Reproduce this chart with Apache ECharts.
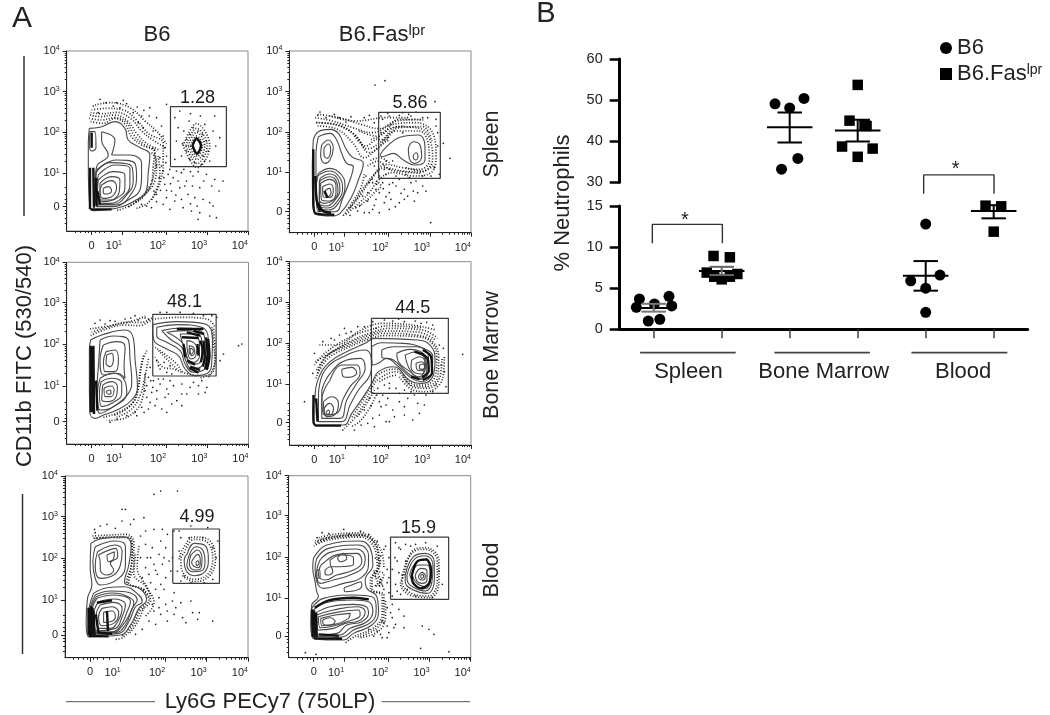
<!DOCTYPE html>
<html><head><meta charset="utf-8">
<style>html,body{margin:0;padding:0;background:#fff}#c{width:1050px;height:715px;filter:blur(.4px)}</style>
<script src="https://cdn.jsdelivr.net/npm/echarts@6/dist/echarts.min.js"></script></head>
<body><div id="c"></div>
<script>
// ---------- Panel A: values are read in display channels of each cytometry plot ----------
const xTickChannels=[75,166,298,422,545];
const tickLabels=['0','1','2','3','4'];
const p1YTicks=[73,173,296,418,540];
const p2YTicks=[63,181,301,423,545];
const p3YTicks=[67,174,300,424,545];
const p4YTicks=[67,182,305,428,550];
const p5YTicks=[68,173,298,423,545];
const p6YTicks=[65,178,301,426,546];

const p1Contours=[
[[68,308],[100,311],[145,328],[175,308],[185,273],[215,253],[250,228],[245,173],[240,123],[200,88],[150,68],[80,61],[68,93],[65,193],[65,263]],
[[105,298],[145,273],[135,228],[190,228],[225,203],[225,163],[220,123],[185,93],[140,73],[90,73],[85,133],[90,193],[125,228],[105,273]],
[[88,175],[130,205],[195,195],[200,150],[180,108],[140,80],[92,80],[88,125]],
[[90,183],[150,213],[205,203],[210,163],[195,113],[150,78],[95,78],[85,133]],
[[95,168],[145,198],[190,188],[190,138],[170,103],[130,83],[95,83],[90,123]],
[[95,153],[140,178],[175,168],[175,128],[150,98],[110,88],[92,103]],
[[100,143],[135,163],[160,153],[158,118],[130,93],[100,93]],
[[105,138],[135,151],[150,133],[135,103],[110,98],[100,118]],
[[110,128],[125,133],[135,121],[122,111],[110,115]],
[[70,298],[85,298],[88,250],[75,240],[68,260]],
[[380,256],[390,273],[402,256],[392,235]]];
const p1Dark=[[[70,190],[70,65]],[[80,190],[82,70]],[[88,160],[90,75]],[[72,65],[135,65]],[[75,295],[75,250]],[[92,120],[100,80]],[[378,256],[390,278],[404,256],[392,232],[378,256]]];
const p1Rims=[
[[70,348],[100,343],[145,348],[185,328],[210,293],[240,263],[280,243]],
[[72,328],[110,323],[145,338],[175,321],[195,283],[225,258],[265,238],[260,193],[255,143],[230,103],[195,78],[150,61]],
[[75,363],[120,368],[170,363],[210,333],[245,293],[290,263],[290,203],[280,143],[255,93]],
[[260,250],[270,200],[265,150],[235,110],[205,85]],
[[68,338],[105,333],[145,340],[180,325],[202,288],[232,260],[272,240]],
[[72,355],[110,352],[150,356],[195,335],[225,300],[260,272],[298,250]],
[[255,235],[268,215],[262,170],[250,135],[222,100],[185,72]],
[[275,225],[280,175],[270,125],[245,85],[210,68]],
[[85,378],[130,385],[190,370],[235,330],[270,300],[300,262]],
[[365,256],[390,296],[415,256],[392,214],[365,256]],
[[372,256],[390,285],[408,256],[392,224],[372,256]],
[[350,256],[390,322],[430,256],[392,190],[350,256]],
[[358,256],[390,308],[422,256],[392,202],[358,256]],
[[378,256],[390,280],[403,256],[392,230],[378,256]]];
const p1Dots=[[325,340],[340,360],[372,352],[402,345],[445,345],[335,310],[352,300],[368,330],[415,320],[440,300],[460,280],[330,270],[348,262],[360,240],[345,225],[325,215],[370,215],[385,205],[410,225],[425,240],[448,255],[405,200],[430,210],[395,300],[380,310],[408,290],[370,290],[420,270],[360,275],[415,210],[290,180],[305,170],[320,160],[345,175],[360,150],[380,165],[400,130],[420,170],[445,155],[470,150],[295,140],[315,120],[340,130],[365,110],[385,100],[410,95],[430,85],[300,100],[325,90],[350,70],[375,60],[400,55],[440,75],[450,40],[395,35],[430,45],[290,80],[270,110],[310,65],[255,70],[80,375],[95,355],[118,385],[140,375],[160,370],[180,382],[200,355],[225,345],[250,370],[270,340],[285,315],[300,380],[260,300],[290,285],[230,310],[215,325],[295,250],[300,225],[280,220],[270,195],[285,195],[298,205],[310,185],[330,180],[352,185],[372,178],[395,178],[412,150],[436,135],[458,120],[335,150],[355,135],[378,135],[292,160],[278,160],[312,142],[328,108],[345,95],[372,82],[392,75],[282,122],[300,122],[270,88],[240,75],[225,80],[262,120],[248,345],[232,362],[212,372],[170,392],[100,395],[150,385]];
const p1Gate=[312,193,480,373];
const p1Label=[393,400];

const p2Contours=[
[[72,278],[87,303],[122,310],[147,298],[167,258],[187,228],[222,208],[207,158],[187,108],[152,58],[127,50],[77,58],[70,98],[69,198]],
[[87,288],[122,298],[142,278],[157,238],[172,208],[192,198],[182,158],[162,108],[137,63],[87,63],[80,138],[80,238]],
[[97,263],[117,278],[132,253],[122,218],[107,208],[94,233]],
[[104,253],[117,266],[124,248],[114,223],[104,233]],
[[87,178],[122,193],[157,173],[167,138],[147,88],[117,68],[87,73],[80,128]],
[[84,170],[122,185],[152,165],[160,132],[142,92],[115,74],[88,80],[80,125]],
[[92,163],[122,176],[147,158],[152,128],[137,98],[112,80],[90,88]],
[[90,155],[122,168],[143,150],[146,122],[130,96],[105,88],[90,100]],
[[94,148],[122,160],[140,143],[140,118],[122,95],[97,98]],
[[100,138],[122,146],[132,128],[122,106],[102,108]],
[[107,126],[120,133],[125,118],[114,108]],
[[272,233],[292,258],[332,286],[387,293],[407,258],[407,218],[377,203],[342,218],[312,238],[277,228]],
[[357,253],[372,273],[392,263],[397,228],[377,208],[360,223]],
[[372,233],[380,240],[386,228],[379,218],[372,226]]];
const p2Dark=[[[72,250],[72,100],[78,58],[135,54]],[[78,170],[82,100],[92,63]],[[86,90],[100,66],[125,60]],[[105,125],[115,105]]];
const p2Rims=[
[[85,320],[140,312],[190,270],[225,225],[265,255],[320,305],[390,305],[418,260],[420,215],[390,190],[340,195],[290,205],[250,170],[220,130],[190,85],[160,50]],
[[78,345],[130,335],[190,315],[250,300],[310,325],[380,330],[430,300],[440,230],[425,180],[370,170],[310,180],[270,160],[240,120],[210,90],[170,55]],
[[120,350],[200,335],[290,345],[360,345]],
[[195,290],[230,260],[265,280],[300,275]],
[[82,330],[150,322],[200,290],[240,240],[280,265],[330,315],[400,318],[428,275]],
[[235,200],[265,215],[300,190],[345,182],[395,178]],
[[80,330],[135,325],[195,295],[235,252],[272,270],[325,318],[395,312],[425,268],[430,220],[395,182],[340,185],[285,195],[245,160],[215,115],[180,72]],
[[85,355],[150,345],[215,325],[270,312],[320,335],[395,340]],
[[245,280],[280,295],[330,340],[405,338]],
[[350,195],[400,185],[432,200]],
[[260,155],[275,140],[255,120],[235,100],[205,75]],
[[300,210],[270,225],[240,215]],
[[210,305],[260,290],[300,312],[345,320]],
[[225,175],[215,135],[195,100],[170,65]]];
const p2Dots=[[257,443],[287,456],[437,393],[462,268],[482,223],[424,30],[280,340],[300,350],[330,352],[365,350],[400,345],[440,340],[445,300],[445,260],[435,195],[450,175],[290,175],[320,170],[350,175],[400,170],[425,170],[285,190],[300,190],[240,150],[260,130],[280,150],[300,120],[320,140],[345,130],[365,150],[385,120],[400,140],[260,100],[285,90],[305,100],[330,90],[355,110],[375,95],[300,70],[250,70],[225,60],[205,65],[240,60],[270,60],[85,352],[110,345],[150,345],[170,332],[225,345],[255,330],[275,350],[340,360],[380,362],[415,345],[230,170],[250,150],[220,110],[235,95],[270,120],[200,75],[290,215],[310,215],[255,200],[330,160],[360,165],[380,155],[270,170],[345,100],[410,125],[300,145],[248,160],[262,145],[282,132],[310,150],[335,118],[372,125],[290,108],[318,78],[235,120],[255,82],[182,52],[212,82],[92,362],[135,355],[185,348],[240,352],[295,358],[358,355],[275,300],[295,285],[340,300],[440,320]];
const p2Gate=[268,163,453,361];
const p2Label=[362,388];

const p3Contours=[
[[72,312],[105,327],[175,342],[200,317],[205,252],[212,172],[195,132],[150,102],[110,87],[85,77],[70,92],[68,182],[68,282]],
[[100,312],[140,324],[185,312],[190,252],[195,192],[185,152],[140,112],[100,92],[90,152],[95,232]],
[[110,297],[150,307],[175,292],[172,232],[175,197],[150,212],[110,207],[100,252]],
[[118,277],[145,282],[155,252],[145,217],[115,217],[110,247]],
[[120,267],[135,272],[140,252],[130,232],[118,242]],
[[100,197],[140,212],[175,187],[180,152],[140,112],[100,102],[92,152]],
[[103,187],[135,197],[165,182],[165,152],[135,122],[105,112],[98,152]],
[[108,177],[135,187],[152,172],[150,147],[125,127],[105,132]],
[[112,167],[132,174],[142,162],[132,142],[115,142]],
[[118,157],[128,162],[133,154],[125,149]],
[[258,358],[330,367],[415,360],[437,315],[435,245],[422,212],[385,205],[355,225],[335,265],[300,285],[262,310],[258,340]],
[[270,350],[330,358],[405,350],[425,310],[425,250],[410,222],[380,215],[355,240],[340,280],[300,305],[270,325]],
[[285,340],[340,348],[400,340],[415,305],[415,255],[400,230],[375,225],[355,255],[345,290],[310,315]],
[[300,335],[350,340],[395,330],[405,300],[405,260],[390,240],[370,240],[358,270],[350,300]],
[[340,330],[380,330],[398,300],[398,265],[380,245],[365,250],[355,280],[345,310]],
[[360,310],[380,305],[390,285],[385,260],[372,255],[362,280]],
[[368,295],[380,290],[384,275],[375,265],[367,280]],
[[372,288],[380,280],[374,270],[370,280]]];
const p3Dark=[[[72,295],[72,95]],[[76,290],[78,95]],[[80,295],[82,90]],[[88,190],[92,100]],[[418,320],[422,270],[415,225]],[[424,315],[428,265],[420,222]],[[410,310],[414,265],[408,232]],[[330,345],[410,345]],[[370,232],[400,222]],[[360,335],[400,325]],[[355,260],[350,300]],[[345,320],[395,318]],[[392,300],[395,265]],[[362,250],[385,238]],[[400,310],[408,280],[402,245]],[[368,228],[395,214]],[[380,340],[412,330]]];
const p3Rims=[
[[72,325],[105,340],[175,357],[215,355],[258,375]],
[[70,345],[130,355],[200,370],[240,385]],
[[240,280],[225,240],[215,170],[200,125],[155,95],[110,80]],
[[235,210],[225,130],[180,80],[120,70]],
[[265,260],[290,230],[320,225],[345,215]],
[[440,345],[445,280],[440,220],[400,198]],
[[265,290],[300,265],[330,240],[350,215],[395,205]],
[[75,335],[120,350],[180,365],[225,365],[258,380]],
[[230,265],[220,215],[210,150],[185,110],[140,85]],
[[245,255],[232,190],[222,150],[195,105],[150,80]],
[[275,280],[305,250],[335,220]],
[[435,350],[440,300],[445,250],[425,200]],
[[265,375],[340,380],[420,375],[445,350]]];
const p3Dots=[[100,372],[130,370],[175,375],[205,385],[235,378],[450,380],[470,270],[515,295],[525,300],[460,250],[435,385],[410,385],[380,392],[340,395],[300,395],[280,395],[270,250],[280,225],[300,215],[315,210],[250,230],[245,200],[260,190],[280,180],[300,165],[320,175],[345,180],[370,170],[395,175],[420,170],[240,175],[255,155],[270,135],[295,140],[315,120],[345,115],[225,110],[245,105],[205,95],[180,85],[150,75],[130,65],[240,140],[265,115],[285,105],[300,95],[330,130],[360,150],[395,150],[415,155],[85,362],[115,360],[145,368],[192,378],[215,372],[245,375],[252,190],[235,160],[258,170],[275,195],[290,195],[310,190],[250,125],[232,95],[210,85],[270,160],[305,150],[345,150],[380,185],[405,190],[275,235],[292,245],[310,235]];
const p3Gate=[258,204,448,389];
const p3Label=[353,425];

const p4Contours=[
[[77,145],[87,200],[122,250],[182,285],[227,305],[257,320],[382,315],[422,300],[437,255],[432,210],[397,185],[362,193],[312,235],[267,220],[247,185],[222,145],[187,95],[162,60],[77,60],[70,105]],
[[87,155],[107,225],[172,270],[227,285],[247,240],[242,210],[207,165],[182,120],[157,70],[87,70]],
[[97,165],[122,215],[172,255],[212,260],[227,230],[202,185],[172,135],[152,80],[97,80]],
[[122,195],[157,240],[202,240],[212,215],[182,175],[162,140],[142,95],[107,90],[97,135]],
[[157,227],[187,233],[202,217],[177,203],[162,205]],
[[102,130],[127,145],[147,125],[140,95],[112,85]],
[[104,110],[120,125],[132,110],[122,90],[107,90]],
[[110,100],[118,105],[120,95],[112,92]],
[[247,295],[277,307],[342,305],[402,290],[430,265],[427,215],[397,190],[367,200],[322,240],[292,260],[267,245],[250,240]],
[[277,285],[312,295],[382,295],[417,265],[417,220],[392,197],[362,210],[312,255],[277,265]],
[[322,275],[362,287],[407,265],[412,225],[390,200],[362,220],[327,250]],
[[347,270],[382,280],[407,250],[402,215],[387,205],[362,225]],
[[367,255],[392,265],[409,240],[397,213],[377,217],[365,235]],
[[380,245],[397,250],[407,235],[397,223],[384,225]],
[[390,240],[400,243],[406,233],[398,227],[390,230]]];
const p4Dark=[[[72,150],[72,70],[80,58],[155,58]],[[80,140],[84,70]],[[400,285],[425,265],[428,215],[400,195]],[[395,275],[415,258],[418,222],[398,203]],[[375,280],[405,270]],[[365,205],[390,198]]];
const p4Rims=[
[[80,200],[110,265],[180,300],[230,320],[280,335],[380,330],[430,310],[448,260],[445,205],[410,175],[370,178],[320,220],[270,200],[250,175],[225,125],[190,75],[165,50]],
[[78,250],[120,275],[190,315],[240,335],[300,350],[400,345],[445,320]],
[[90,300],[140,300],[215,345],[280,365],[370,360],[440,345]],
[[260,150],[240,110],[210,70],[185,55]],
[[330,205],[370,165],[410,160],[460,200],[465,270]],
[[82,225],[115,270],[185,308],[235,328],[290,342],[390,338],[438,315]],
[[85,215],[118,262],[182,295],[232,315],[285,328],[385,325],[428,305],[442,258],[438,208],[405,180],[368,185],[318,228],[268,212],[246,180],[218,130],[185,80]],
[[75,240],[112,280],[185,325],[240,345],[300,358],[395,352]],
[[255,165],[232,125],[200,80]],
[[340,205],[375,172],[415,170],[452,205],[458,260]],
[[270,190],[300,205],[325,210]]];
const p4Dots=[[125,320],[150,330],[185,340],[205,355],[165,350],[250,370],[260,350],[310,372],[345,370],[395,365],[430,360],[450,300],[455,240],[470,175],[520,272],[45,130],[70,215],[75,275],[265,170],[285,180],[300,185],[320,170],[345,165],[375,150],[410,150],[430,160],[270,130],[290,120],[310,105],[330,130],[355,140],[385,125],[405,120],[250,80],[270,90],[300,70],[315,85],[345,90],[370,75],[390,95],[215,60],[235,65],[255,55],[195,45],[160,45],[280,150],[240,140],[225,105],[345,115],[290,70],[100,310],[135,315],[170,335],[225,355],[285,375],[328,378],[378,372],[412,368],[462,290],[465,220],[440,180],[300,170],[262,150],[275,115],[245,118],[330,155],[295,140],[365,160]];
const p4Gate=[246,155,477,380];
const p4Label=[370,410];

const p5Contours=[
[[77,343],[105,356],[175,363],[197,338],[190,278],[177,228],[225,206],[243,173],[220,148],[195,98],[165,68],[70,63],[63,108],[67,178],[80,218],[75,268]],
[[90,333],[150,350],[180,333],[180,278],[160,238],[105,218],[90,238],[83,288]],
[[97,318],[150,338],[170,320],[165,278],[145,248],[105,238],[90,278]],
[[100,308],[150,328],[157,303],[135,283],[145,263],[125,248],[105,263],[105,283]],
[[125,308],[147,318],[145,298],[130,288]],
[[85,193],[125,210],[175,213],[220,188],[230,168],[210,153],[190,108],[160,73],[75,68],[70,128]],
[[90,188],[135,200],[180,198],[215,173],[200,148],[180,98],[150,75],[80,73],[75,138]],
[[93,183],[140,194],[188,183],[205,165],[192,130],[172,98],[145,76],[82,75],[77,138]],
[[95,178],[145,188],[195,168],[185,138],[167,98],[140,78],[85,78],[80,138]],
[[100,168],[145,176],[180,158],[170,123],[150,88],[95,81],[85,128]],
[[105,158],[145,166],[170,148],[157,108],[135,88],[100,88],[93,128]],
[[110,148],[140,153],[160,133],[145,103],[110,96],[100,123]],
[[115,136],[140,140],[150,123],[135,108],[115,106]],
[[365,313],[385,343],[415,338],[427,298],[417,258],[385,246],[360,263],[355,293]],
[[370,308],[390,333],[410,323],[417,288],[405,260],[380,258],[363,278]],
[[375,308],[395,323],[408,298],[405,268],[385,263],[370,283]],
[[383,298],[395,310],[403,288],[397,270],[383,275],[377,286]],
[[390,286],[395,291],[399,283],[393,276]]];
const p5Dark=[[[70,150],[70,68]],[[74,150],[74,68]],[[78,155],[78,66]],[[85,140],[88,68]],[[70,65],[130,64]],[[92,130],[100,72]],[[125,140],[128,80]],[[82,150],[84,70]],[[95,165],[140,172]],[[100,75],[140,72]]];
const p5Rims=[
[[82,365],[130,368],[185,370],[205,345],[205,280],[190,225],[232,205],[255,170],[225,140],[205,100],[175,62],[150,55]],
[[220,335],[215,270],[245,210],[265,165],[240,125]],
[[355,315],[385,355],[425,345],[440,295],[425,250],[385,235],[350,258],[345,295],[355,315]],
[[88,358],[140,362],[192,362],[200,300],[185,225]],
[[85,358],[135,360],[190,360],[200,335],[198,280],[183,228],[228,205],[250,172],[222,145],[200,100],[170,65]],
[[340,295],[350,325],[385,362],[430,352],[448,295],[430,245],[385,228],[345,250]],
[[210,310],[205,250],[240,215],[255,185]],
[[235,150],[215,105],[190,70]]];
const p5Dots=[[88,385],[105,395],[125,400],[150,388],[170,410],[195,400],[235,420],[180,445],[205,415],[170,445],[90,375],[285,500],[265,490],[335,500],[240,380],[265,385],[290,385],[225,365],[240,340],[260,330],[285,350],[305,370],[325,380],[225,300],[255,300],[280,310],[300,330],[240,270],[265,280],[290,280],[310,290],[250,250],[275,250],[300,240],[230,240],[285,220],[320,300],[340,380],[375,395],[425,390],[450,300],[455,350],[335,260],[340,320],[345,230],[375,225],[415,225],[440,235],[280,180],[300,160],[320,170],[345,165],[375,170],[265,140],[285,130],[305,140],[325,130],[350,120],[380,135],[400,135],[440,110],[250,110],[270,100],[230,85],[210,70],[395,115],[245,300],[270,262],[295,300],[315,260],[235,205],[255,225],[295,205],[270,205],[325,195],[260,160],[280,150],[305,110],[330,150],[360,105],[345,360],[355,245],[440,330],[370,360],[410,360]];
const p5Gate=[321,223,460,386];
const p5Label=[393,423];

const p6Contours=[
[[74,298],[114,338],[214,350],[249,313],[252,278],[229,233],[234,208],[264,183],[269,138],[249,98],[194,73],[164,53],[74,58],[66,108],[69,158],[89,183],[84,198],[79,228],[72,268]],
[[84,298],[119,328],[209,338],[239,308],[239,278],[214,238],[164,223],[104,208],[84,228],[79,268]],
[[94,293],[124,316],[204,326],[229,298],[224,273],[184,248],[134,233],[94,223],[84,258]],
[[109,288],[149,310],[204,313],[219,288],[194,263],[144,248],[109,233],[89,248],[94,273]],
[[124,293],[159,308],[194,300],[194,280],[149,273],[129,273]],
[[146,300],[164,313],[174,298],[154,288]],
[[82,258],[92,266],[94,243],[84,238]],
[[109,263],[124,273],[132,258],[119,248],[109,250]],
[[166,210],[189,218],[216,228],[219,216],[194,200],[169,198]],
[[69,148],[104,178],[194,188],[249,183],[262,148],[249,108],[194,83],[164,63],[74,58]],
[[74,143],[114,166],[194,173],[239,168],[252,138],[234,108],[184,88],[154,68],[79,63]],
[[79,133],[124,153],[194,160],[232,153],[239,133],[219,108],[174,98],[144,73],[84,68]],
[[84,128],[134,143],[204,153],[229,138],[209,110],[169,103],[134,88],[89,83]],
[[89,123],[144,136],[209,143],[214,128],[174,108],[124,93],[94,90]],
[[96,118],[139,128],[184,133],[179,118],[129,98],[99,96]],
[[102,113],[124,120],[139,108],[122,98],[104,100]],
[[349,248],[374,303],[409,313],[436,288],[436,233],[414,193],[374,203],[349,228]],
[[354,248],[379,298],[409,306],[432,278],[429,228],[409,200],[376,210],[356,228]],
[[362,248],[384,288],[409,293],[427,268],[424,228],[404,206],[379,218]],
[[369,248],[389,278],[414,278],[424,248],[409,213],[384,223]],
[[379,248],[396,268],[414,260],[414,233],[399,223],[384,230]],
[[389,246],[399,256],[409,246],[402,233],[391,236]],
[[395,246],[400,250],[404,243],[398,238]]];
const p6Dark=[[[70,145],[72,62]],[[76,142],[78,60]],[[82,135],[84,62]],[[78,150],[120,172],[195,180],[240,175]],[[76,58],[160,57]],[[90,70],[150,66]],[[369,248],[384,288],[412,295],[426,262],[420,222],[395,208],[372,225],[369,248]]];
const p6Rims=[
[[75,335],[115,352],[215,362],[260,320],[265,270],[245,235],[245,205],[280,185],[280,130],[255,90],[200,65],[170,45]],
[[80,350],[140,365],[225,370],[275,325],[285,270]],
[[265,260],[280,220],[265,230],[255,260],[285,250],[270,215]],
[[340,248],[370,315],[410,325],[445,290],[445,230],[420,185],[370,192],[340,225],[340,248]],
[[80,342],[125,358],[220,366],[268,322],[272,270]],
[[290,170],[290,125],[270,80],[215,60]],
[[78,345],[120,360],[218,368],[265,325],[270,270],[250,235],[250,205],[285,188],[285,130],[260,85],[205,62]],
[[250,300],[275,290],[260,245],[275,235],[258,215],[285,215]],
[[345,248],[372,322],[412,330],[450,292],[450,228],[424,180],[368,186],[335,222],[345,248]],
[[90,360],[150,372],[230,375]]];
const p6Dots=[[50,15],[85,360],[100,375],[120,372],[165,385],[180,370],[215,380],[240,370],[265,350],[290,335],[300,300],[295,265],[300,240],[285,205],[300,195],[320,345],[335,325],[325,290],[330,255],[320,220],[335,190],[380,340],[410,345],[445,335],[450,260],[460,220],[430,180],[380,185],[330,330],[350,290],[355,205],[310,160],[330,145],[345,125],[310,120],[320,100],[295,95],[285,105],[275,70],[300,75],[345,90],[400,95],[420,85],[435,70],[280,60],[255,65],[395,28],[480,18],[82,10],[240,85],[275,305],[285,325],[310,265],[295,225],[310,185],[295,150],[305,135],[280,110],[265,80],[318,300],[350,340],[365,335],[325,200],[315,90],[295,60]];
const p6Gate=[305,175,479,362];
const p6Label=[389,390];

const rowTitles=['Spleen','Bone Marrow','Blood'];
const gateTexts=['1.28','5.86','48.1','44.5','4.99','15.9'];

// ---------- Panel B: % neutrophils ----------
const groupLabels=['Spleen','Bone Marrow','Blood'];
const groupLabelPos=[1.51,3.5,5.55];
const xPositions=[1,2,3,4,5,6];
const spleenB6=[[0.79,3.69],[0.745,2.68],[1.01,3.08],[1.225,4.01],[1.265,2.84],[0.92,1.01],[1.09,1.22]];
const spleenFas=[[1.88,8.92],[2.12,8.76],[1.78,6.9],[1.89,6.4],[2.0,6.08],[2.12,6.4],[2.23,6.73]];
const marrowB6=[[2.784,49.1],[3,48.1],[3.21,50.4],[3.12,35.8],[2.88,33.2]];
const marrowFas=[[4,53.7],[3.88,45],[4.1,44],[4.13,43.7],[3.77,38.7],[4,36.2],[4.22,38.2]];
const bloodB6=[[5,12.8],[5.21,6.6],[4.78,5.9],[5,5],[5,2.07]];
const bloodFas=[[5.88,15.04],[6.11,14.96],[6,11.88]];
// x, mean, sem high, sem low
const spleenB6Stats=[1,2.6,3.1,2.15];
const spleenFasStats=[2,7.1,7.6,6.6];
const marrowB6Stats=[3,43.4,47,39.7];
const marrowFasStats=[4,42.6,45.2,39.9];
const bloodB6Stats=[5,6.5,8.3,4.7];
const bloodFasStats=[6,14.4,15.1,13.5];
const spleenBracket=[[0.98,10.46],[0.98,12.77],[2.01,12.77],[2.01,10.46]];
const bloodBracket=[[4.97,27.2],[4.97,31.8],[6.005,31.8],[6.005,27.2]];
const spleenStar=[1.46,13.2];
const bloodStar=[5.44,33];
const groupRules=[[[0.8,-2.84],[2.206,-2.84]],[[2.775,-2.84],[4.18,-2.84]],[[4.79,-2.84],[6.2,-2.84]]];

// ---------- assembling ----------
const panels=[
 {box:[66.7,51,181.3,180],ymax:540,yt:p1YTicks,c:p1Contours,d:p1Dark,r:p1Rims,p:p1Dots,g:p1Gate,l:p1Label},
 {box:[289.3,51,181.7,181.7],ymax:545,yt:p2YTicks,c:p2Contours,d:p2Dark,r:p2Rims,p:p2Dots,g:p2Gate,l:p2Label},
 {box:[66.7,262.3,181.8,181.7],ymax:545,yt:p3YTicks,c:p3Contours,d:p3Dark,r:p3Rims,p:p3Dots,g:p3Gate,l:p3Label},
 {box:[289.5,261.7,181.5,183.3],ymax:550,yt:p4YTicks,c:p4Contours,d:p4Dark,r:p4Rims,p:p4Dots,g:p4Gate,l:p4Label},
 {box:[65,476,183,181.7],ymax:545,yt:p5YTicks,c:p5Contours,d:p5Dark,r:p5Rims,p:p5Dots,g:p5Gate,l:p5Label},
 {box:[288.7,475.7,182,182],ymax:546,yt:p6YTicks,c:p6Contours,d:p6Dark,r:p6Rims,p:p6Dots,g:p6Gate,l:p6Label}
];
const FONT='"Liberation Sans",Arial,sans-serif', INK='#222';
function minorTicks(t){
  const out=[t[0]-50,t[0]-35,t[0]-20,t[0]-10,t[0]+10,t[0]+22,t[0]+38,t[0]+58];
  for(let i=1;i<t.length-1;i++)for(let k=2;k<10;k++)out.push(t[i]+(t[i+1]-t[i])*Math.log10(k));
  return out.filter(v=>v>0);
}
const labelRich={s:{fontSize:7,color:INK,fontFamily:FONT,padding:[0,0,5,0]},n:{fontSize:11,color:INK,fontFamily:FONT}};
const fmt=i=>i===0?'{n|0}':'{n|10}{s|'+tickLabels[i]+'}';
const grid=[],xAxis=[],yAxis=[],series=[];
const base={type:'line',showSymbol:false,silent:true,animation:false,symbol:'none'};
panels.forEach((p,i)=>{
  grid.push({left:p.box[0],top:p.box[1],width:p.box[2],height:p.box[3],show:true,borderColor:'#8a8a8a',borderWidth:1,backgroundColor:'#fff'});
  const xa=xAxis.length, ya=yAxis.length;
  const xLabVals=xTickChannels.map((v,k)=>k===0?v+9:v);
  xAxis.push({type:'value',gridIndex:i,min:0,max:545,position:'bottom',splitLine:{show:false},
    axisLine:{onZero:false,lineStyle:{color:'#222',width:1}},
    axisTick:{customValues:xTickChannels,length:4,lineStyle:{color:'#222'}},
    axisLabel:{customValues:xLabVals,align:'right',margin:9,hideOverlap:false,showMinLabel:true,showMaxLabel:true,rich:labelRich,
      formatter:v=>fmt(xLabVals.indexOf(v))}});
  xAxis.push({type:'value',gridIndex:i,min:0,max:545,position:'bottom',splitLine:{show:false},
    axisLine:{show:false,onZero:false},axisTick:{customValues:minorTicks(xTickChannels),length:2,lineStyle:{color:'#222'}},axisLabel:{show:false}});
  yAxis.push({type:'value',gridIndex:i,min:0,max:p.ymax,position:'left',splitLine:{show:false},
    axisLine:{onZero:false,lineStyle:{color:'#222',width:1}},
    axisTick:{customValues:p.yt,length:4,lineStyle:{color:'#222'}},
    axisLabel:{customValues:p.yt,margin:7,showMinLabel:true,showMaxLabel:true,hideOverlap:false,rich:labelRich,
      formatter:v=>fmt(p.yt.indexOf(v))}});
  yAxis.push({type:'value',gridIndex:i,min:0,max:p.ymax,position:'left',splitLine:{show:false},
    axisLine:{show:false,onZero:false},axisTick:{customValues:minorTicks(p.yt),length:2,lineStyle:{color:'#222'}},axisLabel:{show:false}});
  const ax={xAxisIndex:xa,yAxisIndex:ya};
  series.push({type:'scatter',...ax,data:p.p,symbolSize:1.7,silent:true,animation:false,itemStyle:{color:'#222',opacity:1}});
  p.r.forEach(r=>series.push({...base,...ax,data:r,smooth:.4,lineStyle:{color:'#000',width:1.7,type:[1,1.8],opacity:.85}}));
  p.c.forEach(c=>series.push({...base,...ax,data:c.concat([c[0]]),smooth:.45,lineStyle:{color:'#4a4a4a',width:1.1}}));
  p.d.forEach(c=>series.push({...base,...ax,data:c,smooth:.3,lineStyle:{color:'#111',width:2.4}}));
  const g=p.g;
  series.push({...base,...ax,data:[[g[0],g[1]],[g[2],g[1]],[g[2],g[3]],[g[0],g[3]],[g[0],g[1]]],lineStyle:{color:'#3a3a3a',width:1.2}});
  series.push({type:'scatter',...ax,data:[p.l],symbolSize:0,silent:true,animation:false,itemStyle:{opacity:1},
    label:{show:true,position:'inside',formatter:gateTexts[i],fontFamily:FONT,fontSize:18,color:'#1a1a1a'}});
});

// Panel B grids
const upperGrid=grid.length, lowerGrid=upperGrid+1;
grid.push({left:619.7,top:59,width:408,height:123.3});
grid.push({left:619.7,top:206,width:408,height:123.3});
const xU=xAxis.length, xL=xU+1, yU=yAxis.length, yL=yU+1;
xAxis.push({type:'value',gridIndex:upperGrid,min:0.5,max:6.5,show:false});
xAxis.push({type:'value',gridIndex:lowerGrid,min:0.5,max:6.5,position:'bottom',splitLine:{show:false},
  axisLine:{onZero:false,lineStyle:{color:'#000',width:3}},
  axisTick:{customValues:xPositions,length:9,lineStyle:{color:'#444',width:1.5}},
  axisLabel:{customValues:groupLabelPos,margin:32,fontFamily:FONT,fontSize:22,color:INK,hideOverlap:false,
    formatter:v=>groupLabels[groupLabelPos.indexOf(v)]}});
const yCommon={type:'value',position:'left',splitLine:{show:false},
  axisLine:{onZero:false,lineStyle:{color:'#000',width:3}},
  axisTick:{length:10,lineStyle:{color:'#000',width:2.5}},
  axisLabel:{margin:17,fontFamily:FONT,fontSize:14.5,color:INK,showMinLabel:true,showMaxLabel:true}};
yAxis.push({...yCommon,gridIndex:upperGrid,min:30,max:60,interval:10});
yAxis.push({...yCommon,gridIndex:lowerGrid,min:0,max:15,interval:5});
const U={xAxisIndex:xU,yAxisIndex:yU}, L={xAxisIndex:xL,yAxisIndex:yL};
const FAS='B6.Faslpr';
function pts(name,sym,data,a){series.push({name,type:'scatter',...a,data,symbol:sym,symbolSize:sym==='circle'?11:10.5,clip:false,silent:true,animation:false,itemStyle:{color:'#000',opacity:1}});}
pts('B6','circle',spleenB6,L);pts(FAS,'rect',spleenFas,L);
pts('B6','circle',marrowB6,U);pts(FAS,'rect',marrowFas,U);
pts('B6','circle',bloodB6,L);pts(FAS,'rect',bloodFas,L);
function seg(data,a,color,width){series.push({...base,...a,data,clip:false,lineStyle:{color:color||'#000',width:width||2}});}
function errbar(s,a,sem){
  const [x,m,h,l]=s;
  seg([[x-.335,m],[x+.335,m]],a);
  seg([[x,h],[x,l]],a,sem);
  seg([[x-.18,h],[x+.18,h]],a,sem);
  seg([[x-.18,l],[x+.18,l]],a,sem);
}
errbar(spleenB6Stats,L,'#777');errbar(spleenFasStats,L,'#666');
errbar(marrowB6Stats,U);errbar(marrowFasStats,U);
errbar(bloodB6Stats,L);errbar(bloodFasStats,L);
seg(spleenBracket,L,'#333',1.4);seg(bloodBracket,U,'#333',1.4);
groupRules.forEach(r=>seg(r,L,'#444',1.6));
[[spleenStar,L],[bloodStar,U]].forEach(([s,a])=>series.push({type:'scatter',...a,data:[s],symbolSize:0,silent:true,animation:false,clip:false,itemStyle:{opacity:1},
  label:{show:true,position:'inside',formatter:'*',fontFamily:FONT,fontSize:20,color:'#222'}}));

function txt(text,x,y,size,rot,extra){return {type:'text',x,y,rotation:rot||0,silent:true,
  style:{text,fontFamily:FONT,fontSize:size,fill:INK,align:'center',verticalAlign:'middle',...(extra||{})}};}
function rule(x1,y1,x2,y2,w,c){return {type:'line',silent:true,shape:{x1,y1,x2,y2},style:{stroke:c||'#333',lineWidth:w||1.5}};}
const riseRich={s:{fontFamily:FONT,fontSize:15,fill:INK,padding:[0,0,8,0]},a:{fontFamily:FONT,fontSize:22,fill:INK}};
const graphic=[
  txt('A',22,19,30),txt('B',546,14,29),
  txt('B6',157,35,22),
  {type:'text',x:382,y:35,silent:true,style:{rich:riseRich,text:'{a|B6.Fas}{s|lpr}',align:'center',verticalAlign:'middle'}},
  txt(rowTitles[0],492,144,21.5,Math.PI/2),txt(rowTitles[1],492,355,21.5,Math.PI/2),txt(rowTitles[2],492,570,21.5,Math.PI/2),
  txt('CD11b FITC (530/540)',25,356,22,Math.PI/2),
  txt('Ly6G PECy7 (750LP)',270,702,22),
  txt('% Neutrophils',563,203,22,Math.PI/2),
  rule(24,56,24,216,1.5),rule(22.5,494,22.5,654,1.5),
  rule(66,701.7,155,701.7,1,'#555'),rule(381.7,701.7,470,701.7,1,'#555')
];
const chart=echarts.init(document.getElementById('c'),null,{renderer:'canvas'});
chart.setOption({animation:false,backgroundColor:'#fff',grid,xAxis,yAxis,series,graphic,tooltip:{show:false},
  legend:{data:['B6',FAS],orient:'vertical',left:935,top:32,itemWidth:12,itemHeight:12,itemGap:4,selectedMode:false,
    formatter:n=>n===FAS?'{a|B6.Fas}{s|lpr}':'{a|'+n+'}',
    textStyle:{rich:{a:{fontFamily:FONT,fontSize:22,color:INK},s:{fontFamily:FONT,fontSize:14,color:INK,padding:[0,0,8,0]}}}}
});
</script></body></html>
